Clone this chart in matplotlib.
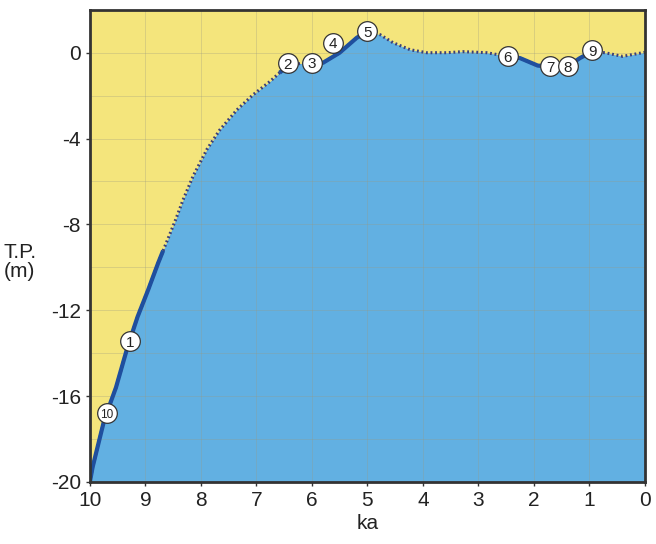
import matplotlib
matplotlib.use('Agg')
import matplotlib.pyplot as plt
import numpy as np

# Sea level curve (ka, T.P. m)
age = [10.0, 9.95, 9.74, 9.53, 9.32, 9.14, 8.95, 8.77, 8.68, 8.59, 8.45, 8.32,
       8.14, 7.89, 7.66, 7.35, 7.06, 6.76, 6.58, 6.43, 6.2, 6.0, 5.80, 5.50,
       5.19, 5.0, 4.77, 4.54, 4.23, 3.93, 3.57, 3.28, 2.85, 2.47, 2.25, 1.93,
       1.71, 1.39, 1.17, 0.95, 0.72, 0.40, 0.04, 0.0]
level = [-20.0, -19.3, -17.1, -15.6, -13.7, -12.3, -11.05, -9.8, -9.22, -8.65,
         -7.75, -6.85, -5.75, -4.5, -3.6, -2.66, -1.96, -1.35, -0.93, -0.6,
         -0.5, -0.47, -0.47, 0.0, 0.7, 0.98, 0.84, 0.47, 0.14, 0.0, 0.0, 0.05,
         0.0, -0.17, -0.25, -0.6, -0.64, -0.64, -0.25, 0.05, 0.0, -0.17, 0.0,
         0.02]

# parts of the curve drawn as solid line (age ranges)
solid_ranges = [(8.68, 10.0), (6.43, 6.62), (5.0, 6.0), (1.71, 2.47), (0.95, 1.39)]

# numbered sample points
sample_ids = ['1', '2', '3', '4', '5', '6', '7', '8', '9', '10']
sample_age = [9.28, 6.43, 6.0, 5.62, 5.0, 2.47, 1.71, 1.39, 0.95, 9.70]
sample_level = [-13.45, -0.5, -0.47, 0.47, 1.0, -0.17, -0.64, -0.64, 0.11, -16.8]

plt.rcParams['font.family'] = ['Liberation Sans', 'DejaVu Sans']
plt.rcParams['axes.unicode_minus'] = False

fig = plt.figure(figsize=(6.56, 5.44), dpi=100)
ax = fig.add_axes([0.137, 0.114, 0.846, 0.868])

yellow = '#f4e57c'
blue = '#62b0e2'
ax.set_facecolor(yellow)

x = np.array(age)
y = np.array(level)
ax.fill_between(x, y, -20, color=blue, lw=0, zorder=1)

# grid
for gx in range(0, 11):
    ax.axvline(gx, color='#9a9a80', lw=0.7, alpha=0.3, zorder=2)
for gy in range(-20, 3, 2):
    ax.axhline(gy, color='#9a9a80', lw=0.7, alpha=0.3, zorder=2)

# dotted edge everywhere, solid on the dated parts
ax.plot(x, y, color='#3a3f7a', lw=2.2, linestyle=(0, (0.6, 0.9)), zorder=3)
for lo, hi in solid_ranges:
    m = (x >= lo - 1e-9) & (x <= hi + 1e-9)
    ax.plot(x[m], y[m], color='#1f4f9e', lw=3.0, solid_capstyle='butt', zorder=4)

ax.scatter(sample_age, sample_level, s=200, facecolor='white', edgecolor='#333333',
           linewidths=0.9, zorder=5)
for sid, sx, sy in zip(sample_ids, sample_age, sample_level):
    ax.text(sx, sy, sid, ha='center', va='center_baseline',
            fontsize=11 if len(sid) == 1 else 8.5, color='#222222', zorder=6)

ax.set_xlim(10, 0)
ax.set_ylim(-20, 2)
ax.set_xticks(range(10, -1, -1))
ax.set_yticks([0, -4, -8, -12, -16, -20])
ax.tick_params(labelsize=15, length=3, width=1, color='#333333', labelcolor='#222222')
for s in ax.spines.values():
    s.set_color('#333333')
    s.set_linewidth(2)
    s.set_zorder(7)

fig.text(0.006, 0.518, 'T.P.\n(m)', fontsize=15, color='#222222', ha='left', va='center',
         linespacing=1.0)
ax.set_xlabel('ka', fontsize=15, color='#222222', labelpad=3)

fig.savefig('out.png', dpi=100)
